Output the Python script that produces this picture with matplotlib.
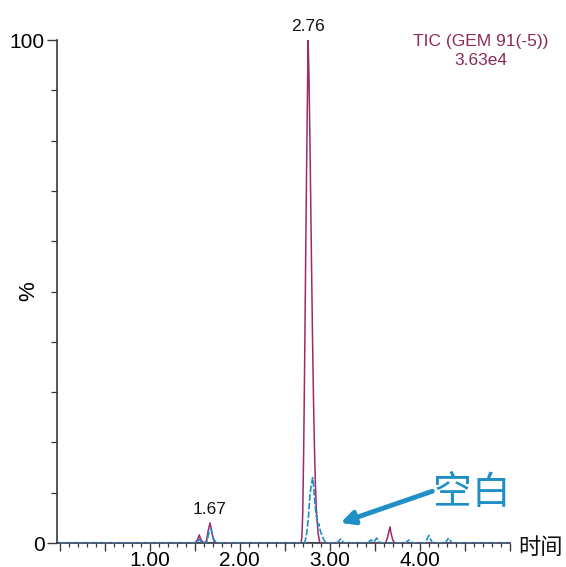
"""
TIC 色谱图: 样品 (GEM 91) 与空白叠加, 纵轴为相对强度 %。
"""
import matplotlib
matplotlib.use("Agg")
import matplotlib.pyplot as plt
from matplotlib.ticker import MultipleLocator, FuncFormatter

plt.rcParams["font.family"] = ["Liberation Sans", "Noto Sans CJK SC", "DejaVu Sans"]

# 样品 TIC (时间 min, 相对强度 %)
sample_t = [0.00, 1.50, 1.53, 1.55, 1.57, 1.60, 1.63, 1.65, 1.67, 1.69, 1.71, 1.74,
            2.68, 2.69, 2.70, 2.71, 2.72, 2.73, 2.74, 2.75, 2.76, 2.77, 2.78, 2.79,
            2.80, 2.81, 2.82, 2.83, 2.84, 2.85, 2.87, 2.89, 3.62, 3.64, 3.66, 3.67,
            3.68, 3.70, 3.72, 5.00]
sample_v = [0.0, 0.0, 0.6, 1.6, 0.6, 0.0, 0.4, 2.5, 4.0, 2.2, 0.5, 0.0,
            0.0, 1.0, 6.0, 18.0, 34.0, 52.0, 70.0, 86.0, 100.0, 92.0, 80.0, 66.0,
            52.0, 39.0, 28.0, 19.0, 12.0, 7.0, 2.0, 0.0, 0.0, 1.0, 2.5, 3.2,
            2.0, 0.6, 0.0, 0.0]

# 空白 TIC
blank_t = [0.00, 1.52, 1.55, 1.58, 1.63, 1.66, 1.68, 1.71, 1.74,
           2.72, 2.74, 2.76, 2.77, 2.78, 2.79, 2.80, 2.81, 2.82, 2.83, 2.84, 2.85,
           2.86, 2.87, 2.88, 2.89, 2.90, 2.92, 2.94, 2.96,
           3.08, 3.12, 3.16, 3.42, 3.46, 3.49, 3.52, 3.56, 3.84, 3.88, 3.92,
           4.06, 4.10, 4.14, 4.28, 4.32, 4.36, 5.00]
blank_v = [0.0, 0.0, 0.8, 0.0, 0.0, 2.2, 2.8, 0.8, 0.0,
           0.0, 1.5, 4.5, 7.0, 9.5, 11.0, 12.0, 13.0, 11.5, 9.0, 7.0, 5.5,
           4.5, 3.5, 3.8, 2.8, 2.2, 1.2, 0.5, 0.0,
           0.0, 0.8, 0.0, 0.0, 0.6, 0.2, 1.0, 0.0, 0.0, 0.6, 0.0,
           0.0, 1.5, 0.0, 0.0, 1.0, 0.0, 0.0]

peak_labels = [(2.76, 100.0), (1.67, 4.0)]

MAGENTA = "#9c2a6b"
BLUE = "#1f8fc6"
AXIS = "#3a3a3a"

fig = plt.figure(figsize=(5.66, 5.67), dpi=100)
ax = fig.add_axes([0.1007, 0.0423, 0.800, 0.8868])

ax.plot(sample_t, sample_v, color=MAGENTA, lw=1.1, zorder=3)
ax.plot(blank_t, blank_v, color=BLUE, lw=1.2, ls=(0, (4, 1.2)), zorder=4)
ax.axhline(0, color="#35a9dc", lw=1.6, zorder=2)

# 峰顶保留时间标注
for t, v in peak_labels:
    ax.annotate("%.2f" % t, xy=(t, v), xytext=(0, 4.5), textcoords="offset points",
                ha="center", va="bottom", fontsize=12.5, color="#111111",
                annotation_clip=False)

ax.text(0.935, 1.012, "TIC (GEM 91(-5))\n3.63e4", transform=ax.transAxes,
        ha="center", va="top", fontsize=12.5, color="#8a2b5c", linespacing=1.3)

# 空白 箭头
ax.annotate("", xy=(3.12, 4.0), xytext=(4.14, 10.3),
            arrowprops=dict(arrowstyle="-|>,head_length=0.8,head_width=0.4",
                            color=BLUE, lw=3.5, shrinkA=0, shrinkB=0))
ax.text(4.58, 9.9, "空白", ha="center", va="center", fontsize=28, color=BLUE,
        family=["Noto Sans CJK SC", "DejaVu Sans"])
fig.text(0.915, 0.035, "时间", ha="left", va="center", fontsize=16, color="#111111",
         family=["Noto Sans CJK SC", "DejaVu Sans"])

ax.set_xlim(-0.03, 5.0)
ax.set_ylim(0, 100)

ax.xaxis.set_major_locator(MultipleLocator(0.5))
ax.xaxis.set_minor_locator(MultipleLocator(0.1))
ax.xaxis.set_major_formatter(FuncFormatter(
    lambda x, _: "%.2f" % x if abs(x - round(x)) < 1e-6 and 0 < x < 5 else ""))
ax.set_yticks([0, 100])
ax.set_yticklabels(["0", "100"])
ax.yaxis.set_minor_locator(MultipleLocator(10))

ax.tick_params(axis="x", which="major", length=6, width=1.0, color=AXIS,
               labelsize=15, pad=0)
ax.tick_params(axis="x", which="minor", length=3, width=0.9, color=AXIS)
ax.tick_params(axis="y", which="major", length=7, width=1.0, color=AXIS,
               labelsize=15, pad=2)
ax.tick_params(axis="y", which="minor", length=4, width=0.9, color=AXIS)

ax.set_ylabel("%", fontsize=16)
ax.yaxis.set_label_coords(-0.04, 0.5)

for side in ("top", "right"):
    ax.spines[side].set_visible(False)
for side in ("left", "bottom"):
    ax.spines[side].set_color(AXIS)
    ax.spines[side].set_linewidth(1.2)

fig.savefig("out.png", dpi=100)
